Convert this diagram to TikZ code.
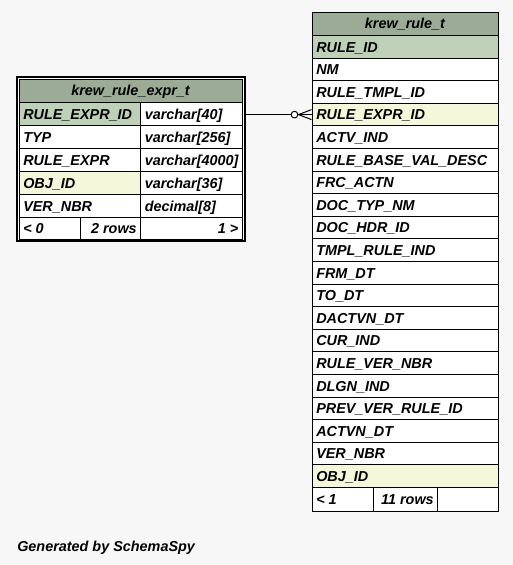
\documentclass[tikz,border=0pt]{standalone}
\usepackage{fontspec}
\setmainfont{Liberation Sans}
\usetikzlibrary{calc}
\definecolor{bg}{HTML}{F7F7F7}
\definecolor{hdr}{HTML}{9BAB96}
\definecolor{pk}{HTML}{BED1B8}
\definecolor{idx}{HTML}{F4F7DA}
% cell: name, x1, y1, x2, y2, fill
\newcommand{\mkcell}[6]{\node[cellbox,fill=#6,minimum width={(#4-#2)*0.75pt},minimum height={(#5-#3)*0.75pt}] (#1) at (#2,#3) {};}
\newcommand{\lbL}[2]{\node[txt,anchor=base west] (#1t) at ($(#1.west)+(4.5,5.2)$) {#2};}
\newcommand{\lbR}[2]{\node[txt,anchor=base east] (#1t) at ($(#1.east)+(-4,5.2)$) {#2};}
\newcommand{\lbC}[2]{\node[txt,anchor=base] (#1t) at ($(#1.center)+(0,5.2)$) {#2};}
\begin{document}
\begin{tikzpicture}[x=0.75pt,y=-0.75pt,
  font=\fontsize{10.8}{12}\selectfont\bfseries\itshape,
  cellbox/.style={draw=black,line width=0.75pt,inner sep=0pt,anchor=north west,rectangle},
  txt/.style={inner sep=0pt},
  conn/.style={draw=black,line width=0.75pt}]
\fill[bg] (0,0) rectangle (513,565);
\useasboundingbox (0,0) rectangle (513,565);

% ---------- left table: krew_rule_expr_t ----------
\node[draw=black,line width=1.5pt,fill=white,anchor=north west,inner sep=0pt,
      minimum width={228*0.75pt},minimum height={164*0.75pt}] (ltab) at (16,76) {};
\mkcell{lh}{18.5}{78.5}{241.5}{102}{hdr}\lbC{lh}{krew\_rule\_expr\_t}
\mkcell{la1}{18.5}{102}{140}{125}{pk}\lbL{la1}{RULE\_EXPR\_ID}
\mkcell{la2}{140}{102}{241.5}{125}{white}\lbL{la2}{varchar[40]}
\mkcell{lb1}{18.5}{125}{140}{148}{white}\lbL{lb1}{TYP}
\mkcell{lb2}{140}{125}{241.5}{148}{white}\lbL{lb2}{varchar[256]}
\mkcell{lc1}{18.5}{148}{140}{171}{white}\lbL{lc1}{RULE\_EXPR}
\mkcell{lc2}{140}{148}{241.5}{171}{white}\lbL{lc2}{varchar[4000]}
\mkcell{ld1}{18.5}{171}{140}{194}{idx}\lbL{ld1}{OBJ\_ID}
\mkcell{ld2}{140}{171}{241.5}{194}{white}\lbL{ld2}{varchar[36]}
\mkcell{le1}{18.5}{194}{140}{217}{white}\lbL{le1}{VER\_NBR}
\mkcell{le2}{140}{194}{241.5}{217}{white}\lbL{le2}{decimal[8]}
\mkcell{lf1}{18.5}{217}{80}{238.5}{white}\lbL{lf1}{< 0}
\mkcell{lf2}{80}{217}{140}{238.5}{white}\lbR{lf2}{2 rows}
\mkcell{lf3}{140}{217}{241.5}{238.5}{white}\lbR{lf3}{1 >}

% ---------- right table: krew_rule_t ----------
\mkcell{rh}{311.5}{11.5}{497.5}{35}{hdr}\lbC{rh}{krew\_rule\_t}
\foreach \n/\f [count=\i from 0] in {RULE\_ID/pk,NM/white,RULE\_TMPL\_ID/white,RULE\_EXPR\_ID/idx,
  ACTV\_IND/white,RULE\_BASE\_VAL\_DESC/white,FRC\_ACTN/white,DOC\_TYP\_NM/white,DOC\_HDR\_ID/white,
  TMPL\_RULE\_IND/white,FRM\_DT/white,TO\_DT/white,DACTVN\_DT/white,CUR\_IND/white,RULE\_VER\_NBR/white,
  DLGN\_IND/white,PREV\_VER\_RULE\_ID/white,ACTVN\_DT/white,VER\_NBR/white,OBJ\_ID/idx}{
  \pgfmathsetmacro\ya{35+22.6*\i}
  \pgfmathsetmacro\yb{35+22.6*(\i+1)}
  \mkcell{r\i}{311.5}{\ya}{497.5}{\yb}{\f}\lbL{r\i}{\n}
}
\mkcell{rf1}{311.5}{487}{373}{511}{white}\lbL{rf1}{< 1}
\mkcell{rf2}{373}{487}{437}{511}{white}\lbR{rf2}{11 rows}
\mkcell{rf3}{437}{487}{497.5}{511}{white}

% ---------- connector ----------
\draw[conn] (ltab.east |- r3.west) -- (r3.west);
\draw[conn,fill=white] ($(r3.west)+(-17,0)$) circle[radius=2.5pt];
\draw[conn] ($(r3.west)+(-13,0)$) -- ($(r3.west)+(0,-5)$);
\draw[conn] ($(r3.west)+(-13,0)$) -- ($(r3.west)+(0,5)$);

% ---------- footer text ----------
\node[txt,anchor=base west] (gen) at (17,551) {Generated by SchemaSpy};
\end{tikzpicture}
\end{document}
